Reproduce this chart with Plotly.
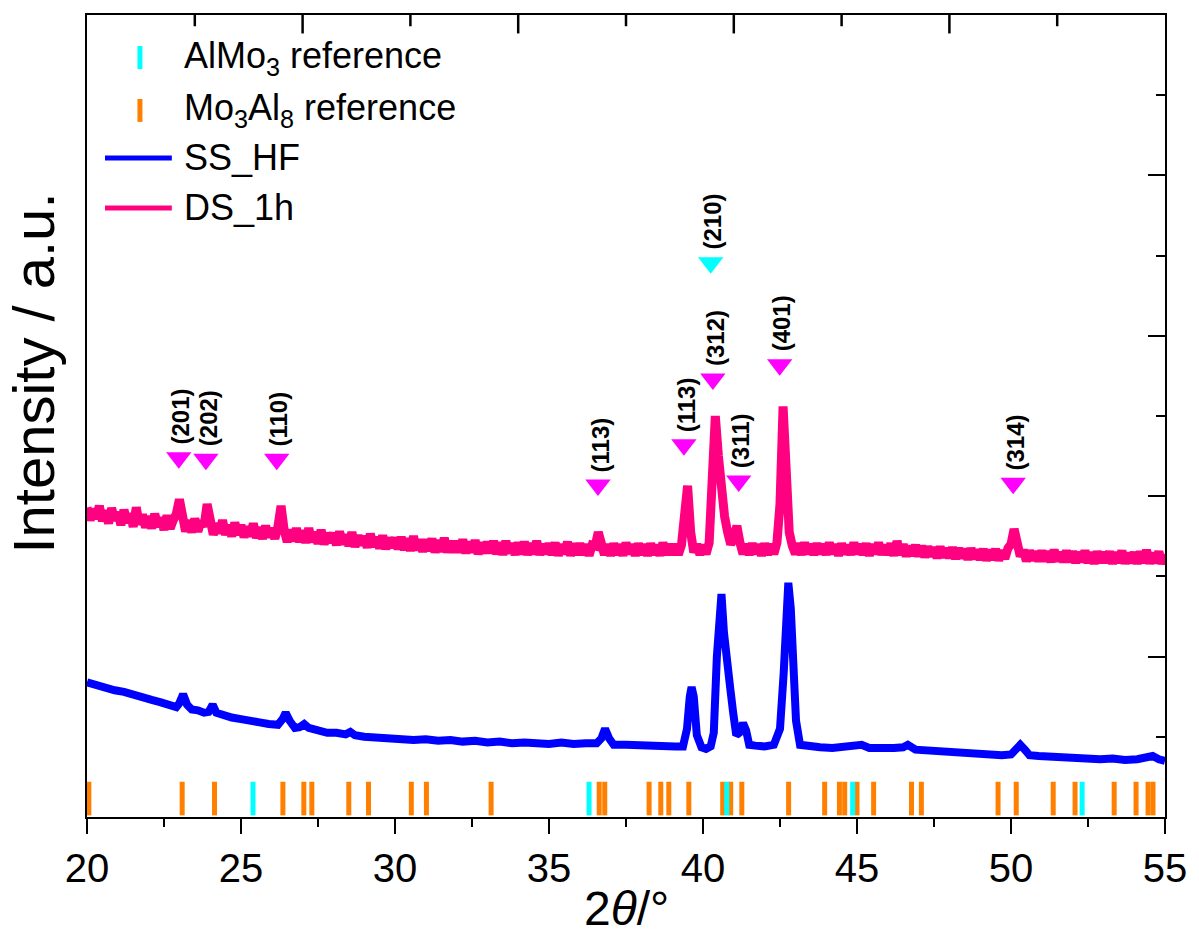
import plotly.graph_objects as go

# ---------------- data ----------------
# SS_HF pattern (2theta in degrees, intensity in a.u.)
ss_x = [20.0, 20.3, 20.6, 20.9, 21.2, 21.5, 21.8, 22.1, 22.4, 22.7, 22.9, 23.0, 23.12, 23.25, 23.4,
        23.6, 23.8, 23.95, 24.08, 24.2, 24.4, 24.7, 25.0, 25.3, 25.6, 25.9, 26.2, 26.35, 26.45, 26.58,
        26.75, 26.9, 27.05, 27.2, 27.5, 27.8, 28.1, 28.4, 28.55, 28.7, 29.0, 29.4, 29.8, 30.2, 30.6,
        31.0, 31.4, 31.8, 32.2, 32.6, 33.0, 33.4, 33.8, 34.2, 34.6, 35.0, 35.4, 35.8, 36.2, 36.55,
        36.7, 36.82, 36.95, 37.1, 37.5, 37.9, 38.3, 38.7, 39.1, 39.35, 39.48, 39.57, 39.63, 39.7, 39.8,
        39.95, 40.1, 40.25, 40.35, 40.45, 40.55, 40.6, 40.68, 40.78, 40.88, 40.98, 41.08, 41.18, 41.3,
        41.4, 41.5, 41.7, 42.0, 42.3, 42.5, 42.62, 42.7, 42.77, 42.85, 42.93, 43.02, 43.15, 43.4, 43.8,
        44.2, 44.6, 45.0, 45.15, 45.4, 45.8, 46.2, 46.5, 46.65, 46.9, 47.3, 47.7, 48.1, 48.5, 48.9,
        49.3, 49.7, 50.0, 50.15, 50.3, 50.45, 50.6, 50.9, 51.3, 51.7, 52.1, 52.5, 52.9, 53.3, 53.7,
        54.1, 54.4, 54.6, 54.8, 55.0]
ss_y = [1.68, 1.64, 1.62, 1.58, 1.56, 1.52, 1.50, 1.46, 1.43, 1.38, 1.37, 1.42, 1.53, 1.40, 1.34,
        1.33, 1.30, 1.31, 1.40, 1.30, 1.27, 1.24, 1.22, 1.21, 1.18, 1.16, 1.15, 1.22, 1.30, 1.20,
        1.11, 1.12, 1.16, 1.11, 1.08, 1.05, 1.05, 1.03, 1.06, 1.02, 1.00, 0.99, 0.97, 0.98, 0.96,
        0.97, 0.95, 0.96, 0.94, 0.95, 0.93, 0.94, 0.92, 0.93, 0.92, 0.91, 0.93, 0.91, 0.92, 0.92,
        0.98, 1.10, 0.98, 0.90, 0.90, 0.89, 0.89, 0.88, 0.88, 0.88, 1.10, 1.50, 1.62, 1.50, 1.02,
        0.87, 0.85, 0.88, 1.05, 2.00, 2.75, 2.78, 2.30, 1.80, 1.62, 1.30, 1.02, 1.05, 1.17,
        1.08, 0.90, 0.89, 0.88, 0.90, 1.10, 1.80, 2.70, 2.92, 2.60, 2.00, 1.20, 0.90, 0.88, 0.87,
        0.86, 0.87, 0.88, 0.90, 0.86, 0.85, 0.86, 0.87, 0.90, 0.84, 0.83, 0.81, 0.80, 0.79, 0.77,
        0.78, 0.77, 0.78, 0.84, 0.90, 0.84, 0.77, 0.76, 0.75, 0.74, 0.75, 0.73, 0.72, 0.73, 0.71,
        0.72, 0.74, 0.76, 0.72, 0.70]

# DS_1h pattern: scan grid 20.0-55.0 deg in 0.1 deg steps, intensities read row by row (one row per degree)
ds_x = [round(20.0 + 0.1 * i, 1) for i in range(351)]
ds_y = [
    3.86, 3.70, 3.84, 3.72, 3.88, 3.69, 3.82, 3.66, 3.85, 3.70,   # 20
    3.80, 3.64, 3.83, 3.67, 3.78, 3.62, 3.86, 3.65, 3.77, 3.61,   # 21
    3.75, 3.60, 3.78, 3.62, 3.73, 3.58, 3.76, 3.60, 3.70, 3.78,   # 22
    3.96, 3.72, 3.56, 3.70, 3.55, 3.72, 3.56, 3.69, 3.62, 3.90,   # 23
    3.68, 3.52, 3.66, 3.54, 3.70, 3.52, 3.64, 3.50, 3.67, 3.52,   # 24
    3.64, 3.49, 3.62, 3.50, 3.66, 3.48, 3.61, 3.47, 3.63, 3.49,   # 25
    3.60, 3.47, 3.62, 3.88, 3.58, 3.43, 3.58, 3.44, 3.60, 3.43,   # 26
    3.57, 3.42, 3.60, 3.43, 3.55, 3.41, 3.58, 3.40, 3.54, 3.42,   # 27
    3.54, 3.39, 3.56, 3.40, 3.52, 3.38, 3.55, 3.37, 3.51, 3.39,   # 28
    3.50, 3.36, 3.53, 3.37, 3.49, 3.35, 3.51, 3.34, 3.48, 3.36,   # 29
    3.48, 3.34, 3.49, 3.33, 3.47, 3.32, 3.50, 3.33, 3.46, 3.31,   # 30
    3.46, 3.32, 3.47, 3.30, 3.45, 3.31, 3.48, 3.30, 3.44, 3.30,   # 31
    3.44, 3.30, 3.46, 3.29, 3.43, 3.30, 3.45, 3.28, 3.42, 3.29,   # 32
    3.43, 3.29, 3.44, 3.28, 3.42, 3.27, 3.44, 3.29, 3.41, 3.27,   # 33
    3.42, 3.28, 3.43, 3.27, 3.41, 3.28, 3.44, 3.27, 3.40, 3.28,   # 34
    3.41, 3.27, 3.42, 3.26, 3.40, 3.28, 3.43, 3.26, 3.41, 3.27,   # 35
    3.41, 3.27, 3.40, 3.26, 3.39, 3.38, 3.55, 3.36, 3.27, 3.40,   # 36
    3.26, 3.41, 3.27, 3.40, 3.26, 3.42, 3.28, 3.40, 3.26, 3.41,   # 37
    3.27, 3.40, 3.26, 3.41, 3.27, 3.39, 3.26, 3.42, 3.27, 3.40,   # 38
    3.27, 3.40, 3.27, 3.39, 3.75, 4.13, 3.55, 3.30, 3.40, 3.27,   # 39
    3.39, 3.28, 3.42, 4.00, 5.00, 4.50, 4.05, 3.75, 3.55, 3.40,   # 40
    3.48, 3.63, 3.42, 3.28, 3.40, 3.27, 3.41, 3.28, 3.40, 3.26,   # 41
    3.41, 3.27, 3.40, 3.28, 3.42, 3.90, 5.12, 4.40, 3.55, 3.38,   # 42
    3.28, 3.41, 3.27, 3.42, 3.28, 3.40, 3.27, 3.41, 3.28, 3.40,   # 43
    3.27, 3.42, 3.28, 3.40, 3.26, 3.41, 3.28, 3.39, 3.27, 3.42,   # 44
    3.28, 3.40, 3.27, 3.41, 3.26, 3.40, 3.28, 3.42, 3.27, 3.39,   # 45
    3.27, 3.41, 3.26, 3.44, 3.27, 3.40, 3.25, 3.38, 3.26, 3.39,   # 46
    3.25, 3.38, 3.24, 3.37, 3.25, 3.36, 3.23, 3.37, 3.24, 3.35,   # 47
    3.23, 3.36, 3.22, 3.35, 3.23, 3.34, 3.21, 3.35, 3.22, 3.33,   # 48
    3.21, 3.34, 3.20, 3.33, 3.21, 3.34, 3.20, 3.32, 3.22, 3.35,   # 49
    3.40, 3.59, 3.42, 3.25, 3.33, 3.19, 3.32, 3.20, 3.31, 3.19,   # 50
    3.32, 3.19, 3.31, 3.18, 3.33, 3.19, 3.30, 3.18, 3.32, 3.18,   # 51
    3.31, 3.17, 3.30, 3.18, 3.32, 3.17, 3.30, 3.16, 3.31, 3.17,   # 52
    3.30, 3.17, 3.31, 3.16, 3.30, 3.17, 3.32, 3.16, 3.29, 3.17,   # 53
    3.30, 3.16, 3.31, 3.17, 3.33, 3.16, 3.29, 3.17, 3.31, 3.16,   # 54
    3.28,                                                          # 55
]

# Reference stick positions (2theta)
almo3_ref = [25.39, 36.30, 40.77, 44.86, 52.31]
mo3al8_ref = [20.06, 23.09, 24.14, 26.36, 27.04, 27.30, 28.50, 29.14, 30.53, 31.02, 33.12,
              36.63, 36.81, 38.25, 38.63, 38.89, 39.54, 40.64, 40.90, 41.26, 42.78, 43.95,
              44.43, 44.60, 45.00, 45.54, 46.77, 47.09, 49.58, 50.17, 51.37, 52.08, 53.35,
              54.06, 54.45, 54.61]
ref_row = 0.23

# Peak markers (hkl labels)
peak_labels = ["(201)", "(202)", "(110)", "(113)", "(113)", "(312)", "(210)", "(311)", "(401)", "(314)"]
peak_x = [22.98, 23.86, 26.16, 36.59, 39.38, 40.32, 40.25, 41.16, 42.49, 50.07]
peak_y = [4.48, 4.46, 4.46, 4.14, 4.64, 5.46, 6.91, 4.19, 5.64, 4.16]
peak_phase = ["Mo3Al8", "Mo3Al8", "Mo3Al8", "Mo3Al8", "Mo3Al8", "Mo3Al8", "AlMo3",
              "Mo3Al8", "Mo3Al8", "Mo3Al8"]

# top frame tick positions (2theta) and whether each is a major tick
top_tick_pos = [23.5, 27.0, 30.5, 34.0, 37.5, 41.0, 44.5, 48.0, 51.5]
top_tick_major = [False, True, False, True, False, True, False, True, False]

# ---------------- styling ----------------
C_PINK = "#FF0080"
C_BLUE = "#0000FF"
C_ORANGE = "#FF8000"
C_CYAN = "#00FFFF"
C_MAGENTA = "#FF00FF"
FONT = "Arial, Liberation Sans, sans-serif"
Y_TOP = 10.0
MAJOR_LEN = 0.23    # in y units (about 18 px)
MINOR_LEN = 0.14    # about 11 px

fig = go.Figure()

fig.add_trace(go.Scatter(x=mo3al8_ref, y=[ref_row] * len(mo3al8_ref), mode="markers",
                         marker=dict(symbol="line-ns", size=24, line=dict(width=5, color=C_ORANGE)),
                         showlegend=False, hoverinfo="x"))
fig.add_trace(go.Scatter(x=almo3_ref, y=[ref_row] * len(almo3_ref), mode="markers",
                         marker=dict(symbol="line-ns", size=24, line=dict(width=5, color=C_CYAN)),
                         showlegend=False, hoverinfo="x"))

fig.add_trace(go.Scatter(x=ss_x, y=ss_y, mode="lines", name="SS_HF",
                         line=dict(color=C_BLUE, width=8), showlegend=False))
fig.add_trace(go.Scatter(x=ds_x, y=ds_y, mode="lines", name="DS_1h",
                         line=dict(color=C_PINK, width=9), showlegend=False))

tri_colors = [C_CYAN if p == "AlMo3" else C_MAGENTA for p in peak_phase]
fig.add_trace(go.Scatter(x=peak_x, y=peak_y, mode="markers",
                         marker=dict(symbol="triangle-down", size=22, color=tri_colors),
                         showlegend=False, hoverinfo="skip"))

for lab, px, py in zip(peak_labels, peak_x, peak_y):
    fig.add_annotation(x=px, y=py, text=lab, showarrow=False, textangle=-90,
                       xanchor="center", yanchor="bottom", yshift=11, xshift=2,
                       font=dict(family=FONT, size=24, color="black", weight="bold"))

# top frame ticks (inside), built from the tick position list
tx, ty = [], []
for p, mj in zip(top_tick_pos, top_tick_major):
    tx += [p, p, None]
    ty += [Y_TOP, Y_TOP - (MAJOR_LEN if mj else MINOR_LEN), None]
fig.add_trace(go.Scatter(x=tx, y=ty, mode="lines", line=dict(color="black", width=2.5),
                         showlegend=False, hoverinfo="skip", cliponaxis=False))

# legend (drawn manually to mimic the original style)
leg_items = [
    ("AlMo<sub>3</sub> reference", "bar", C_CYAN, 0.9470),
    ("Mo<sub>3</sub>Al<sub>8</sub> reference", "bar", C_ORANGE, 0.8810),
    ("SS_HF", "line", C_BLUE, 0.8217),
    ("DS_1h", "line", C_PINK, 0.7594),
]
for text, kind, col, yc in leg_items:
    if kind == "bar":
        fig.add_shape(type="line", xref="paper", yref="paper", x0=0.0491, x1=0.0491,
                      y0=yc - 0.0143, y1=yc + 0.0143, line=dict(color=col, width=5))
    else:
        fig.add_shape(type="line", xref="paper", yref="paper", x0=0.0167, x1=0.0787,
                      y0=yc, y1=yc, line=dict(color=col, width=5))
    fig.add_annotation(x=0.088, y=yc, xref="paper", yref="paper", text=text, showarrow=False,
                       xanchor="left", yanchor="middle",
                       font=dict(family=FONT, size=36, color="black"))

# axis titles
fig.add_annotation(x=0.5, y=-0.1135, xref="paper", yref="paper", text="2<i>θ</i>/°",
                   showarrow=False, xanchor="center", yanchor="middle",
                   font=dict(family=FONT, size=48, color="black"))
fig.add_annotation(x=-0.05, y=0.553, xref="paper", yref="paper", text="Intensity / a.u.",
                   showarrow=False, textangle=-90, xanchor="center", yanchor="middle",
                   font=dict(family=FONT, size=58, color="black"))

fig.update_layout(
    width=1199, height=938,
    margin=dict(l=87, r=32, t=15, b=121),
    paper_bgcolor="white", plot_bgcolor="white",
    font=dict(family=FONT, color="black"),
    xaxis=dict(range=[20, 55], tick0=20, dtick=5, ticks="outside", ticklen=15, tickwidth=2,
               tickcolor="black", showline=True, linewidth=2, linecolor="black", mirror=True,
               showgrid=False, zeroline=False, tickfont=dict(family=FONT, size=40, color="black"),
               minor=dict(tick0=20, dtick=2.5, ticks="outside", ticklen=8, tickwidth=2,
                          tickcolor="black", showgrid=False)),
    yaxis=dict(range=[0, Y_TOP], side="right", tick0=0, dtick=2, ticks="inside", ticklen=17,
               tickwidth=2, tickcolor="black", showticklabels=False, showline=True, mirror=True,
               linewidth=2, linecolor="black", showgrid=False, zeroline=False,
               minor=dict(tick0=0, dtick=1, ticks="inside", ticklen=9, tickwidth=2,
                          tickcolor="black", showgrid=False)),
)

fig.write_html("out.html", config={"displayModeBar": False},
               post_script="document.body.style.margin='0';")
